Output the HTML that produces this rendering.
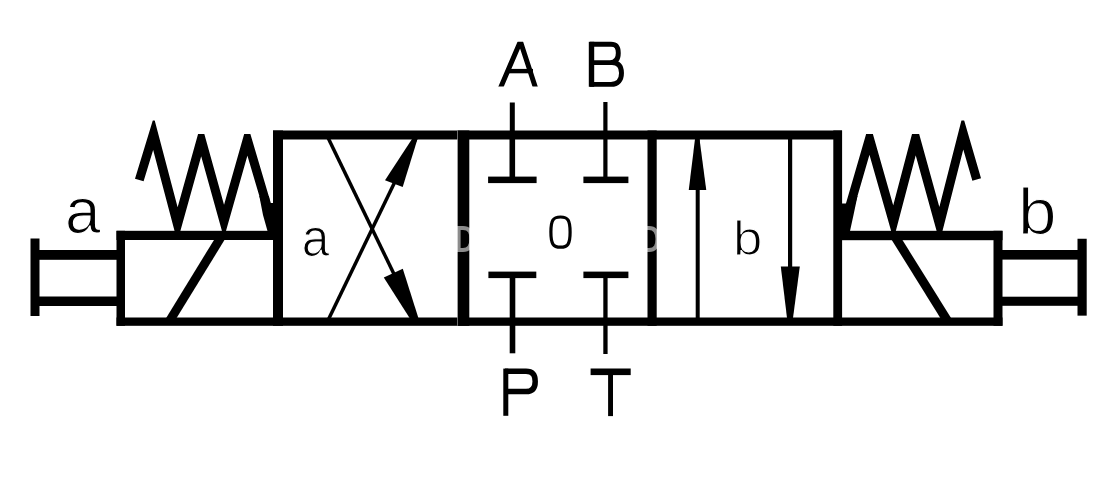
<!DOCTYPE html>
<html><head><meta charset="utf-8">
<style>
html,body{margin:0;padding:0;background:#fff;}
body{width:1113px;height:480px;overflow:hidden;}
svg{display:block;}
.wrap{width:1113px;height:480px;}
text{font-family:"Liberation Sans",sans-serif;fill:#000;stroke:#fff;stroke-width:1.2px;}
</style></head>
<body><div class="wrap">
<svg width="1113" height="480" viewBox="0 0 1113 480">
<defs>
<clipPath id="clipA"><rect x="480" y="41.8" width="80" height="44.8"/></clipPath>
<clipPath id="clipL"><path d="M0 120.5 H172 V134 H290 V236 H0 Z"/></clipPath>
<clipPath id="clipR"><path d="M1113 120.5 H945 V134 H820 V236 H1113 Z"/></clipPath>
</defs>
<rect width="1113" height="480" fill="#fff"/>
<g fill="#000">
<!-- main body walls -->
<rect x="273" y="130.5" width="569" height="9"/>
<rect x="116.5" y="317.5" width="886" height="8.3"/>
<rect x="273" y="130.5" width="10" height="195.3"/>
<rect x="833.3" y="130.5" width="8.8" height="195.3"/>
<rect x="457.2" y="130.5" width="1" height="195.3" fill="#888"/>
<rect x="458" y="130.5" width="11.3" height="195.3"/>
<rect x="647.5" y="130.5" width="9.2" height="195.3"/>
<!-- left solenoid box -->
<rect x="116.5" y="230.8" width="160" height="9.2"/>
<rect x="116.5" y="230.8" width="8.5" height="95"/>
<!-- right solenoid box -->
<rect x="840" y="230.8" width="162.5" height="9.4"/>
<rect x="993.5" y="230.8" width="9" height="95"/>
<!-- left actuator -->
<rect x="30.5" y="238.5" width="9" height="77.5"/>
<rect x="39" y="250" width="78" height="9.8"/>
<rect x="39" y="296.5" width="78" height="9.5"/>
<!-- right actuator -->
<rect x="1077.5" y="238.75" width="9.2" height="76.9"/>
<rect x="1002" y="250" width="76" height="9.6"/>
<rect x="1002" y="296.7" width="76" height="9.1"/>
<!-- ports -->
<rect x="509.8" y="102.5" width="5" height="37"/>
<rect x="509.5" y="135" width="5.6" height="45"/>
<rect x="488.1" y="176.6" width="48.5" height="6.5"/>
<rect x="603.3" y="102" width="4.2" height="80"/>
<rect x="583.4" y="176.6" width="45" height="6.5"/>
<rect x="488.4" y="271.6" width="47.9" height="6.5"/>
<rect x="509.7" y="275" width="5.6" height="78.3"/>
<rect x="583.4" y="271.6" width="45" height="6.5"/>
<rect x="603.3" y="275" width="4.3" height="79"/>
<!-- right valve arrows -->
<rect x="695.7" y="135" width="4" height="185"/>
<polygon points="695,139 699.5,139 706.25,190 688.75,190"/>
<rect x="788" y="135" width="4.2" height="185"/>
<polygon points="780.8,266.5 799.8,266.5 793,318 787,318"/>
<polygon points="259.3,196 268.9,196 270,203 274,203 274,231 267.5,231 263,215"/>
<polygon points="857.5,196 849,196 846.5,203.5 842,203.5 842,231 850,231 853.5,215"/>
<!-- left valve arrowheads -->
<polygon points="412,139 417.5,139 402.7,187 385,180.3"/>
<polygon points="409.6,318 418.4,318 402.8,268.8 383.8,277.6"/>
</g>
<g stroke="#000" fill="none">
<line x1="168.9" y1="322" x2="222.3" y2="235" stroke-width="9"/>
<line x1="894" y1="235" x2="948.2" y2="322" stroke-width="9"/>
<line x1="326.7" y1="135" x2="416.7" y2="321" stroke-width="3.5"/>
<line x1="327.7" y1="321" x2="417.5" y2="135" stroke-width="3.5"/>
<polyline clip-path="url(#clipL)" points="139.3,180 153.5,133.5 177.5,224.5 201.2,139.5 224,221.5 247.3,139.5 271,219.5" stroke-width="9" stroke-linejoin="miter" stroke-miterlimit="10"/>
<polyline clip-path="url(#clipR)" points="976.7,179.5 963,132.5 939.5,224.5 915.6,138 893.4,222.5 869.5,138.5 846,219.5" stroke-width="9" stroke-linejoin="miter" stroke-miterlimit="10"/>
</g>
<g fill="none" stroke="#fff" stroke-opacity="0.55" stroke-width="4">
<path d="M458.6,228.1 H463 C470,228.1 471.4,233 471.4,239.1 C471.4,245 470,250.1 463,250.1 H458.6 Z"/>
<path d="M640,227.9 H649 C656,227.9 657.4,233 657.4,238.9 C657.4,245 656,249.9 649,249.9 H640 Z"/>
</g>
<!-- labels -->
<g clip-path="url(#clipA)"><polyline points="499.6,90 520.4,41.4 536.25,90" fill="none" stroke="#000" stroke-width="5" stroke-miterlimit="10"/></g>
<rect x="506" y="68.9" width="27" height="4.4"/>
<rect x="588.8" y="41.8" width="5.4" height="45"/>
<path d="M590,44.25 H611 C617,44.25 618.3,48 618.3,53 C618.3,58.5 616,62.6 610,62.6 H590 M590,62.6 H612 C619,62.6 621.5,67 621.5,73 C621.5,80 618,84.35 611,84.35 H590" fill="none" stroke="#000" stroke-width="4.9"/>
<rect x="503.3" y="368.6" width="5" height="47.2"/>
<path d="M505,371.35 H526 C533.5,371.35 535.2,376 535.2,381.5 C535.2,387.5 533,391.6 526,391.6 H505" fill="none" stroke="#000" stroke-width="5.5"/>
<rect x="590.6" y="368.5" width="40.1" height="6.6"/>
<rect x="608.1" y="374" width="4.9" height="42.1"/>
<text transform="translate(65.0,233.16) scale(1.0,1)" font-size="63.9">a</text>
<text transform="translate(1018.0,233.7) scale(1.06,1)" font-size="65.4">b</text>
<text transform="translate(301.7,255.67) scale(0.927,1)" font-size="53.5">a</text>
<path d="M560.5,217.0 C567.99,217.0 570.1,220.32 570.1,232.1 C570.1,243.88 567.99,247.2 560.5,247.2 C553.01,247.2 550.9,243.88 550.9,232.1 C550.9,220.32 553.01,217.0 560.5,217.0 Z" fill="none" stroke="#000" stroke-width="3.2"/>
<text transform="translate(733.0,254.9) scale(1.09,1)" font-size="48.4">b</text>
</svg></div>
</body></html>
